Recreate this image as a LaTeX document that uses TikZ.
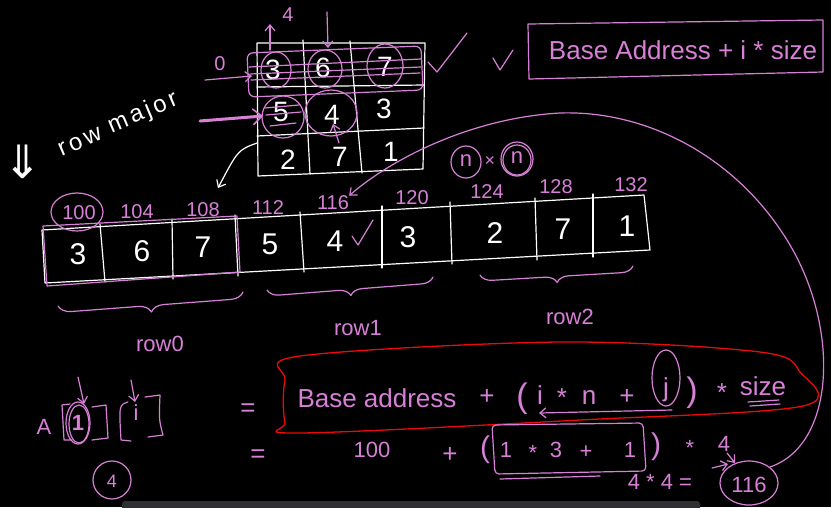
\documentclass[tikz,border=0pt]{standalone}
\usepackage{fontspec}
\setmainfont{Liberation Sans}
\newfontfamily\symfont{DejaVu Sans}
\newfontfamily\spacedfont[LetterSpace=14]{Liberation Sans}
\usetikzlibrary{arrows.meta,decorations.pathreplacing,shapes.geometric}
\definecolor{pk}{RGB}{216,128,216}
\definecolor{rd}{RGB}{235,10,10}
\definecolor{barc}{RGB}{48,48,52}
\begin{document}
\begin{tikzpicture}[x=1pt,y=-1pt,
  wl/.style={draw=white,line width=1.2pt,line cap=round,line join=round},
  pl/.style={draw=pk,line width=1.2pt,line cap=round,line join=round},
  tw/.style={text=white,inner sep=0pt,font=\fontsize{#1}{#1}\selectfont},
  tp/.style={text=pk,inner sep=0pt,font=\fontsize{#1}{#1}\selectfont},
  ring/.style={draw=pk,line width=1.2pt,ellipse,inner sep=0pt},
  arr/.style={-{Straight Barb[length=6pt,width=10pt]}},
]
\fill[black] (0,0) rectangle (831,507);
\useasboundingbox (0,0) rectangle (831,507);
\fill[barc,rounded corners=3pt] (122,501) rectangle (700,515);

% ---------- top matrix ----------
\draw[wl] (257,43) -- (425,43) -- (423,169) -- (258,176) -- cycle;
\draw[wl] (303,40) -- (310,174);
\draw[wl] (350,41) -- (362,173);
\draw[wl] (257,87) -- (424,85);
\draw[wl] (257,136) -- (424,128);
\node[tw=28] (m00) at (273,70) {3};
\node[tw=28] (m01) at (323,68) {6};
\node[tw=28] (m02) at (385,67) {7};
\node[tw=28] (m10) at (281,112) {5};
\node[tw=28] (m11) at (332,115) {4};
\node[tw=28] (m12) at (384,109) {3};
\node[tw=28] (m20) at (288,160) {2};
\node[tw=28] (m21) at (340,157) {7};
\node[tw=28] (m22) at (391,152) {1};
\node[ring,minimum width=30pt,minimum height=36pt] (r00) at (276,70) {};
\node[ring,minimum width=34pt,minimum height=38pt] (r01) at (325,69) {};
\node[ring,minimum width=36pt,minimum height=44pt] (r02) at (385,66) {};
\node[ring,minimum width=42pt,minimum height=42pt] (r10) at (283,117) {};
\node[ring,minimum width=52pt,minimum height=46pt] (r11) at (331,113) {};
\draw[pl,rounded corners=6pt] (247,53) -- (421,46) -- (423,90) -- (249,97) -- cycle;
\draw[pl] (249,67) -- (421,59);
\draw[pl] (250,74) -- (421,67);
\draw[pl] (251,80) -- (420,73);
\draw[pl] (265,108) -- (299,105);
\draw[pl] (266,115) -- (301,112);
\draw[pl] (270,126) -- (296,123);
% labels and arrows on the matrix
\node[tp=20] (zero) at (220,64) {0};
\coordinate (zs) at (205,80);
\coordinate (ze) at (252,76);
\draw[pl,arr] (zs) -- (ze);
\coordinate (rs) at (200,121);
\coordinate (re) at (263,116);
\draw[pk,line width=3pt,line cap=round,-{Straight Barb[length=9pt,width=16pt,line width=1.5pt]}] (rs) -- (re);
\node[tp=20] (four) at (288,15) {4};
\coordinate (us) at (270,50);
\coordinate (ue) at (270,24);
\draw[pl,arr] (us) -- (ue);
\coordinate (ds) at (327,12);
\coordinate (de) at (328,48);
\draw[pl,arr] (ds) -- (de);
\coordinate (ks) at (339,143);
\coordinate (ke) at (333,124);
\draw[pl,arr] (ks) -- (ke);
\draw[pl] (428,62) -- (437,72) -- (467,33);
\coordinate (wa) at (257,143);
\coordinate (wb) at (218,188);
\draw[wl,arr] (wa) .. controls (238,150) .. (wb);

% ---------- top right formula ----------
\draw[pl] (493,58) -- (500,70) -- (513,50);
\draw[pl] (528,24) -- (823,20) -- (823,72) -- (529,79) -- cycle;
\node[tp=26] (f1) at (683,50) {Base Address + i * size};

% ---------- row major ----------
\node[text=white,inner sep=0pt,rotate=23,font=\spacedfont\fontsize{24}{24}\selectfont] (rmA) at (80,142) {row};
\node[text=white,inner sep=0pt,rotate=23,font=\spacedfont\fontsize{24}{24}\selectfont] (rmB) at (143,113) {major};
\node[text=white,inner sep=0pt,font=\symfont\fontsize{46}{46}\selectfont] (dd) at (23,162) {⇓};

% ---------- linear array ----------
\draw[wl] (42,230) -- (644,195) -- (650,250) -- (45,283) -- cycle;
\draw[wl] (100,224) -- (105,282);
\draw[wl] (172,219) -- (173,279);
\draw[wl] (235,215) -- (238,276);
\draw[wl] (300,212) -- (304,272);
\draw[wl] (382,206) -- (382,268);
\draw[wl] (450,202) -- (452,264);
\draw[wl] (535,198) -- (537,260);
\draw[wl] (593,194) -- (593,257);
\node[tw=30] (s1) at (78,254) {3};
\node[tw=30] (s2) at (142,251) {6};
\node[tw=30] (s3) at (203,247) {7};
\node[tw=30] (s4) at (270,244) {5};
\node[tw=30] (s5) at (335,241) {4};
\node[tw=30] (s6) at (408,237) {3};
\node[tw=30] (s7) at (495,233) {2};
\node[tw=30] (s8) at (563,229) {7};
\node[tw=30] (s9) at (627,226) {1};
\draw[pl] (352,236) -- (358,245) -- (373,220);
\draw[pl] (43,226) -- (237,216) -- (240,272) -- (47,286) -- cycle;
\node[tp=20] (a100) at (79,213) {100};
\node[ring,minimum width=52pt,minimum height=38pt] (c100) at (77,212) {};
\node[tp=20] (a104) at (137,212) {104};
\node[tp=20] (a108) at (203,210) {108};
\node[tp=20] (a112) at (268,208) {112};
\node[tp=20] (a116) at (333,203) {116};
\node[tp=20] (a120) at (412,198) {120};
\node[tp=20] (a124) at (487,192) {124};
\node[tp=20] (a128) at (556,187) {128};
\node[tp=20] (a132) at (631,185) {132};
\node[tp=22] (n1) at (466,161) {n};
\node[ring,minimum width=30pt,minimum height=32pt] (cn1) at (466,162) {};
\node[tp=18] (xx) at (490,161) {×};
\node[tp=22] (n2) at (517,158) {n};
\node[ring,minimum width=32pt,minimum height=34pt] (cn2) at (517,159) {};
\node[ring,minimum width=28pt,minimum height=30pt] (cn3) at (517,160) {};
% braces
\coordinate (b0s) at (58,306);
\coordinate (b0e) at (243,292);
\draw[pl,decorate,decoration={brace,mirror,amplitude=13pt}] (b0s) -- (b0e);
\coordinate (b1s) at (267,290);
\coordinate (b1e) at (433,277);
\draw[pl,decorate,decoration={brace,mirror,amplitude=12pt}] (b1s) -- (b1e);
\coordinate (b2s) at (480,275);
\coordinate (b2e) at (633,266);
\draw[pl,decorate,decoration={brace,mirror,amplitude=12pt}] (b2s) -- (b2e);
\node[tp=22] (row0) at (160,344) {row0};
\node[tp=22] (row1) at (358,328) {row1};
\node[tp=22] (row2) at (570,317) {row2};

% ---------- A[1][i] ----------
\node[tp=22] (A) at (44,427) {A};
\draw[pl] (70,404) -- (62,405) -- (64,440) -- (72,440);
\draw[pl] (92,407) -- (106,405) -- (108,438) -- (92,440);
\node[text=pk,inner sep=0pt,font=\bfseries\fontsize{22}{22}\selectfont] (one) at (78,423) {1};
\node[ring,minimum width=24pt,minimum height=42pt] (cone) at (78,423) {};
\node[ring,minimum width=20pt,minimum height=38pt] (cone2) at (79,424) {};
\draw[pl] (128,402) .. controls (119,405) .. (121,440) -- (131,441);
\draw[pl] (145,397) -- (160,395) .. controls (159,420) .. (163,435) -- (148,437);
\node[tp=22] (ii) at (136,413) {i};
\coordinate (p1s) at (78,377);
\coordinate (p1e) at (84,404);
\draw[pl,arr] (p1s) -- (p1e);
\coordinate (p2s) at (131,380);
\coordinate (p2e) at (135,402);
\draw[pl,arr] (p2s) -- (p2e);
\node[tp=18] (f4) at (112,481) {4};
\node[ring,minimum width=38pt,minimum height=38pt] (cf4) at (112,480) {};
\node[tp=26] (eq1) at (248,410) {=};
\node[tp=26] (eq2) at (258,456) {=};

% ---------- red formula ----------
\draw[rd,line width=1.3pt] plot[smooth cycle,tension=0.55] coordinates {(300,356) (560,342) (760,352) (800,372) (803,406) (580,420) (300,433) (285,422) (285,380)};
\node[tp=26] (t1) at (377,398) {Base address};
\node[tp=26] (t2) at (487,397) {+};
\node[tp=34] (t3) at (522,399) {(};
\node[tp=26] (t4) at (540,395) {i};
\node[tp=26] (t5) at (562,398) {*};
\node[tp=26] (t6) at (589,397) {n};
\node[tp=26] (t7) at (627,397) {+};
\node[tp=26] (t8) at (666,390) {j};
\node[ring,minimum width=28pt,minimum height=56pt] (cj) at (666,378) {};
\node[tp=34] (t9) at (692,393) {)};
\node[tp=26] (t10) at (722,393) {*};
\node[tp=26] (t11) at (763,386) {size};
\draw[pl] (748,402) -- (779,400);
\draw[pl] (750,406) -- (780,404);
\coordinate (js) at (672,410);
\coordinate (je) at (539,413);
\draw[pl,arr] (js) -- (je);

% ---------- second line ----------
\node[tp=22] (h100) at (372,450) {100};
\node[tp=26] (hp) at (450,455) {+};
\node[tp=30] (hl) at (485,450) {(};
\draw[pl,rounded corners=4pt] (492,425) -- (643,423) -- (646,471) -- (495,474) -- cycle;
\draw[pl] (500,479) -- (600,476);
\node[tp=22] (k1) at (506,450) {1};
\node[tp=22] (k2) at (533,453) {*};
\node[tp=22] (k3) at (556,450) {3};
\node[tp=22] (k4) at (586,452) {+};
\node[tp=22] (k5) at (630,450) {1};
\node[tp=30] (hr) at (656,447) {)};
\node[tp=22] (hs) at (690,448) {*};
\node[tp=22] (h4) at (724,444) {4};
\node[tp=22] (hh) at (660,482) {4 * 4 =};
\node[tp=22] (v116) at (749,485) {116};
\node[ring,minimum width=58pt,minimum height=44pt] (c116) at (749,483) {};
\coordinate (q1) at (727,453);
\coordinate (q2) at (735,463);
\draw[pl,arr] (q1) -- (q2);
\coordinate (q3) at (712,468);
\coordinate (q4) at (728,464);
\draw[pl,arr] (q3) -- (q4);

% ---------- big connector ----------
\draw[pl,arr] (c116.north east) .. controls (835,445) and (840,330) .. (790,245)
  .. controls (740,160) and (650,110) .. (560,113)
  .. controls (470,118) and (390,160) .. (a116.north east);
\end{tikzpicture}
\end{document}
